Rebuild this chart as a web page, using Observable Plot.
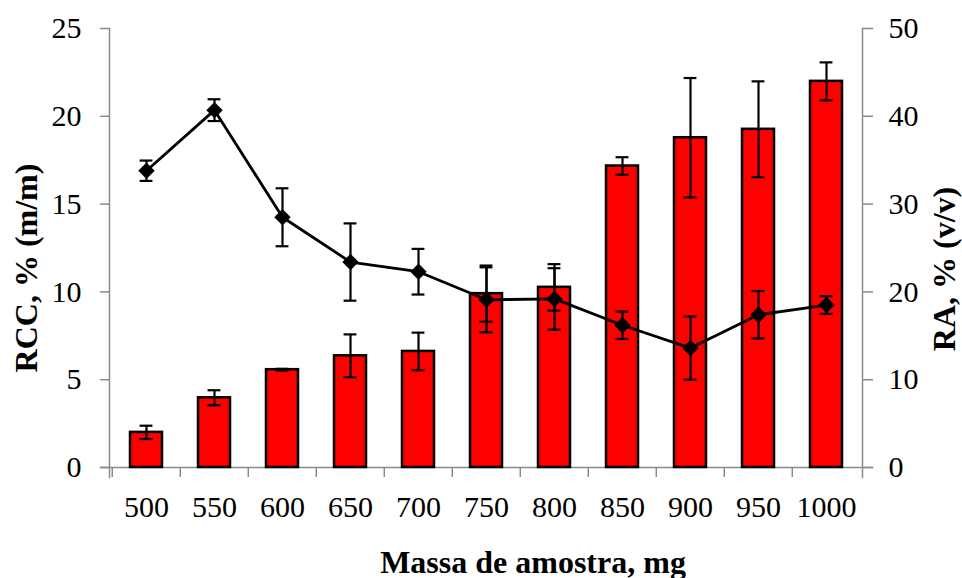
<!DOCTYPE html>
<html>
<head>
<meta charset="utf-8">
<script src="https://cdn.jsdelivr.net/npm/d3@7"></script>
<script src="https://cdn.jsdelivr.net/npm/@observablehq/plot@0.6"></script>
<style>
  html, body { margin: 0; padding: 0; background: #fff; }
</style>
</head>
<body>
<div id="chart"></div>
<script>
const categories = ["500", "550", "600", "650", "700", "750", "800", "850", "900", "950", "1000"];
const rcc = [2.0, 3.97, 5.57, 6.36, 6.61, 9.9, 10.26, 17.17, 18.78, 19.26, 21.99];
const rccErr = [0.38, 0.43, 0.05, 1.22, 1.07, 1.6, 1.32, 0.5, 3.4, 2.73, 1.08];
const ra = [33.8, 40.7, 28.5, 23.4, 22.3, 19.1, 19.2, 16.2, 13.6, 17.4, 18.5];
const raErr = [1.16, 1.24, 3.3, 4.4, 2.6, 3.7, 3.5, 1.56, 3.6, 2.7, 1.0];
const rccTicks = [0, 5, 10, 15, 20, 25];
const raTicks = [0, 10, 20, 30, 40, 50];
const xLabel = "Massa de amostra, mg";
const yLabelLeft = "RCC, % (m/m)";
const yLabelRight = "RA, % (v/v)";

const rows = categories.map((c, i) => ({c, rcc: rcc[i], rccErr: rccErr[i], ra: ra[i], raErr: raErr[i]}));
const raScale = 2; // right axis = 2 × left axis

const W = 962, H = 578, ML = 109, MR = 100, MT = 28, MB = 111;
const step = (W - ML - MR) / categories.length;
const capInset = (step * (1 - 0.53) - 13) / 2;
const gray = "#8a8a8a";
const fontFamily = "'Liberation Serif', 'Times New Roman', serif";

const chart = Plot.plot({
  width: W, height: H,
  marginLeft: ML, marginRight: MR, marginTop: MT, marginBottom: MB,
  style: {fontFamily, fontSize: "30px", background: "#fff", color: "black"},
  x: {type: "band", domain: categories, paddingInner: 0.53, paddingOuter: 0.265, axis: null},
  y: {domain: [0, 25], axis: null},
  marks: [
    // axis lines
    Plot.frame({anchor: "left", stroke: gray, strokeWidth: 1.5, insetBottom: -10}),
    Plot.frame({anchor: "right", stroke: gray, strokeWidth: 1.5, insetBottom: -10}),
    Plot.frame({anchor: "bottom", stroke: gray, strokeWidth: 1.5, insetLeft: -9, insetRight: -10}),
    // x ticks at category boundaries
    Plot.axisX({tickSize: 10, dx: -step / 2, tickFormat: () => "", label: null, stroke: gray, strokeWidth: 1.5}),
    Plot.axisX({tickSize: 0, tickPadding: 28, label: null, fill: "black", fontSize: 30}),
    // left axis
    Plot.axisY(rccTicks, {anchor: "left", tickSize: 9, tickPadding: 19, label: null, stroke: gray, strokeWidth: 1.5, fill: "black", fontSize: 30}),
    // right axis (RA)
    Plot.axisY(raTicks.map(d => d / raScale), {anchor: "right", tickSize: 10, tickPadding: 16, label: null, stroke: gray, strokeWidth: 1.5, fill: "black", fontSize: 30, tickFormat: d => String(d * raScale)}),
    // bars
    Plot.barY(rows, {x: "c", y: "rcc", fill: "#ff0000", stroke: "black", strokeWidth: 2.5}),
    // bar error bars
    Plot.ruleX(rows, {x: "c", y1: d => d.rcc - d.rccErr, y2: d => d.rcc + d.rccErr, stroke: "black", strokeWidth: 2.2}),
    Plot.tickY(rows, {x: "c", y: d => d.rcc - d.rccErr, stroke: "black", strokeWidth: 2.2, insetLeft: capInset, insetRight: capInset}),
    Plot.tickY(rows, {x: "c", y: d => d.rcc + d.rccErr, stroke: "black", strokeWidth: 2.2, insetLeft: capInset, insetRight: capInset}),
    // RA line
    Plot.line(rows, {x: "c", y: d => d.ra / raScale, stroke: "black", strokeWidth: 2.8}),
    Plot.ruleX(rows, {x: "c", y1: d => (d.ra - d.raErr) / raScale, y2: d => (d.ra + d.raErr) / raScale, stroke: "black", strokeWidth: 2.2}),
    Plot.tickY(rows, {x: "c", y: d => (d.ra - d.raErr) / raScale, stroke: "black", strokeWidth: 2.2, insetLeft: capInset, insetRight: capInset}),
    Plot.tickY(rows, {x: "c", y: d => (d.ra + d.raErr) / raScale, stroke: "black", strokeWidth: 2.2, insetLeft: capInset, insetRight: capInset}),
    Plot.dot(rows, {x: "c", y: d => d.ra / raScale, symbol: "diamond2", r: 7.4, fill: "black", stroke: "none"}),
    // axis titles
    Plot.text([xLabel], {frameAnchor: "bottom", textAnchor: "middle", lineAnchor: "middle", dx: 47, dy: 95, fontWeight: "bold", fontSize: 32, fill: "black"}),
    Plot.text([yLabelLeft], {frameAnchor: "left", textAnchor: "middle", lineAnchor: "middle", rotate: -90, dx: -83, dy: 20, fontWeight: "bold", fontSize: 32, fill: "black"}),
    Plot.text([yLabelRight], {frameAnchor: "right", textAnchor: "middle", lineAnchor: "middle", rotate: -90, dx: 82, dy: 21, fontWeight: "bold", fontSize: 32, fill: "black"})
  ]
});
document.getElementById("chart").appendChild(chart);
</script>
</body>
</html>
